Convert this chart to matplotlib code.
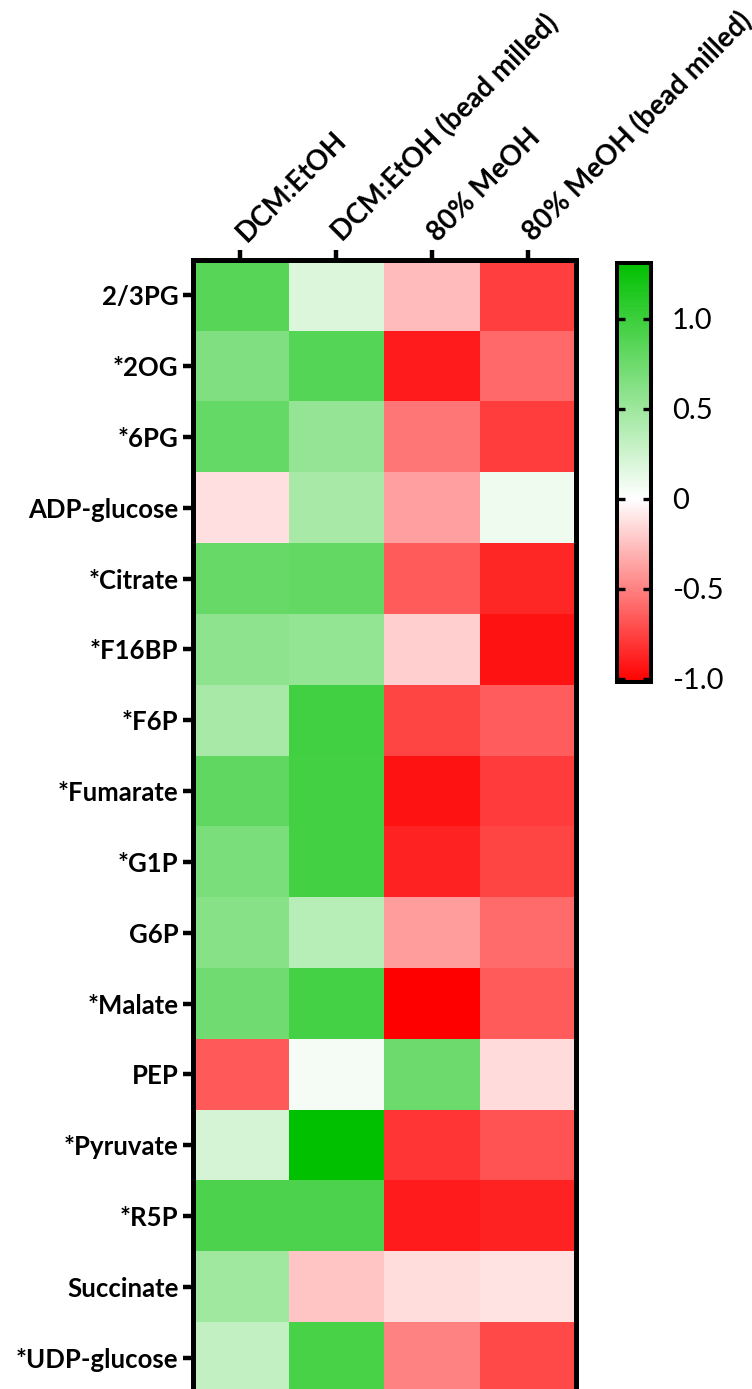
import numpy as np
import matplotlib
matplotlib.use("Agg")
import matplotlib.pyplot as plt
import matplotlib.transforms as mtransforms
from matplotlib.colors import LinearSegmentedColormap, Normalize

plt.rcParams['font.family'] = ['Lato', 'DejaVu Sans']

# extraction methods (columns) and metabolites (rows)
methods = ['DCM:EtOH', 'DCM:EtOH (bead milled)', '80% MeOH', '80% MeOH (bead milled)']
metabolites = ['2/3PG', '*2OG', '*6PG', 'ADP-glucose', '*Citrate', '*F16BP', '*F6P',
               '*Fumarate', '*G1P', 'G6P', '*Malate', 'PEP', '*Pyruvate', '*R5P',
               'Succinate', '*UDP-glucose']

dcm_etoh = [0.86, 0.65, 0.79, -0.12, 0.78, 0.58, 0.44, 0.81, 0.68, 0.61, 0.73, -0.66, 0.21, 0.91, 0.49, 0.30]
dcm_etoh_bm = [0.18, 0.87, 0.54, 0.44, 0.80, 0.55, 0.97, 0.96, 0.96, 0.37, 0.95, 0.05, 1.31, 0.91, -0.23, 0.93]
meoh = [-0.27, -0.91, -0.54, -0.38, -0.65, -0.19, -0.74, -0.94, -0.88, -0.39, -1.02, 0.75, -0.81, -0.91, -0.13, -0.50]
meoh_bm = [-0.76, -0.60, -0.77, 0.08, -0.86, -0.94, -0.64, -0.78, -0.74, -0.59, -0.65, -0.14, -0.69, -0.88, -0.115, -0.72]

cbar_ticks = [-1.0, -0.5, 0, 0.5, 1.0]
cbar_labels = ['-1.0', '-0.5', '0', '0.5', '1.0']

data = np.array([dcm_etoh, dcm_etoh_bm, meoh, meoh_bm]).T
vmin, vmax = -1.02, 1.31

# red -> white (at 0) -> green, linear in value
mid = -vmin / (vmax - vmin)
cmap = LinearSegmentedColormap.from_list(
    'rwg', [(0.0, '#ff0000'), (mid, '#ffffff'), (1.0, '#00c000')])
norm = Normalize(vmin=vmin, vmax=vmax)

W, H = 752, 1389
fig = plt.figure(figsize=(W / 100, H / 100), dpi=100)

# heatmap axes runs slightly past the bottom edge
left, right, top, bottom = 192.5, 575.5, 260, 1393
ax = fig.add_axes([left / W, 1 - bottom / H, (right - left) / W, (bottom - top) / H])
ax.imshow(data, cmap=cmap, norm=norm, aspect='auto', interpolation='nearest')

ax.set_xticks(range(len(methods)))
ax.set_yticks(range(len(metabolites)))
ax.xaxis.tick_top()
ax.set_xticklabels(methods, rotation=45, ha='left', va='bottom',
                   rotation_mode='anchor', fontsize=20, fontweight='bold')
ax.set_yticklabels(metabolites, fontsize=18.5, fontweight='bold')
ax.tick_params(axis='both', direction='out', length=7, width=3.2, pad=3)
# nudge the slanted column labels right so they start over their ticks
shift = mtransforms.ScaledTranslation(7 / 72, 0, fig.dpi_scale_trans)
for lab in ax.get_xticklabels():
    lab.set_transform(lab.get_transform() + shift)
for s in ax.spines.values():
    s.set_linewidth(3.6)

# colorbar
cl, cr, ct, cb = 617, 651, 263, 682.5
cax = fig.add_axes([cl / W, 1 - cb / H, (cr - cl) / W, (cb - ct) / H])
cbar = fig.colorbar(ax.images[0], cax=cax)
cbar.set_ticks(cbar_ticks)
cbar.set_ticklabels(cbar_labels)
cbar.outline.set_linewidth(2.9)
cax.tick_params(axis='y', direction='in', length=5.5, width=2.4, left=True, right=True,
                labelsize=21, pad=15)

fig.savefig('out.png', dpi=100)
